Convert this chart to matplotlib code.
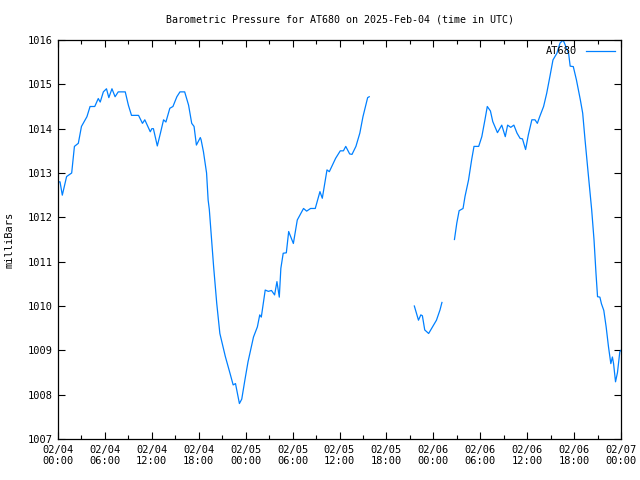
import numpy as np
import matplotlib
matplotlib.use("Agg")
import matplotlib.pyplot as plt
import matplotlib.dates as mdates
from datetime import datetime, timedelta

# hours after 2025-02-04 00:00 UTC, pressure in millibars (three segments, gaps between)
seg1_h = [0.0, 0.26, 0.55, 1.1, 1.75, 2.1, 2.6, 3.0, 3.7, 4.1, 4.7, 5.15, 5.4, 5.8, 6.2, 6.5,
          6.9, 7.3, 7.7, 8.6, 9.0, 9.4, 10.3, 10.8, 11.1, 11.8, 12.0, 12.2, 12.7, 13.1, 13.5,
          13.8, 14.3, 14.7, 15.2, 15.6, 16.2, 16.7, 17.1, 17.4, 17.7, 18.2, 18.3, 18.6, 19.0,
          19.2, 19.35, 19.9, 20.3, 20.7, 21.4, 22.0, 22.4, 22.7, 23.2, 23.5, 23.9, 24.3, 25.0,
          25.5, 25.8, 26.0, 26.5, 26.9, 27.3, 27.7, 28.0, 28.3, 28.5, 28.8, 29.2, 29.5, 30.1,
          30.6, 31.4, 31.8, 32.3, 32.9, 33.5, 33.8, 34.4, 34.7, 35.5, 36.1, 36.5, 36.8, 37.3,
          37.6, 38.1, 38.6, 39.0, 39.6, 39.8]
seg1_p = [1012.8, 1012.8, 1012.5, 1012.92, 1013.0, 1013.6, 1013.67, 1014.05, 1014.27, 1014.5,
          1014.5, 1014.68, 1014.6, 1014.83, 1014.9, 1014.7, 1014.9, 1014.72, 1014.83, 1014.83,
          1014.53, 1014.3, 1014.3, 1014.12, 1014.2, 1013.93, 1014.0, 1014.0, 1013.61, 1013.9,
          1014.2, 1014.15, 1014.46, 1014.5, 1014.72, 1014.83, 1014.83, 1014.53, 1014.12,
          1014.05, 1013.63, 1013.8, 1013.75, 1013.48, 1013.0, 1012.39, 1012.18, 1010.89,
          1010.06, 1009.38, 1008.86, 1008.48, 1008.22, 1008.25, 1007.8, 1007.9, 1008.33,
          1008.74, 1009.3, 1009.53, 1009.8, 1009.75, 1010.36, 1010.33, 1010.35, 1010.25,
          1010.55, 1010.2, 1010.85, 1011.19, 1011.2, 1011.68, 1011.41, 1011.94, 1012.2,
          1012.14, 1012.2, 1012.2, 1012.58, 1012.43, 1013.07, 1013.03, 1013.33, 1013.5,
          1013.5, 1013.6, 1013.43, 1013.42, 1013.6, 1013.9, 1014.27, 1014.7, 1014.72]

seg2_h = [45.57, 46.1, 46.4, 46.6, 46.9, 47.4, 47.8, 48.4, 48.85, 49.1]
seg2_p = [1010.0, 1009.68, 1009.8, 1009.78, 1009.46, 1009.38, 1009.5, 1009.68, 1009.91, 1010.08]

seg3_h = [50.7, 51.0, 51.3, 51.8, 52.05, 52.5, 52.9, 53.2, 53.8, 54.2, 54.6, 54.9, 55.3, 55.6,
          56.2, 56.75, 57.2, 57.5, 57.9, 58.3, 58.7, 59.1, 59.4, 59.8, 60.15, 60.6, 61.0, 61.3,
          61.6, 62.1, 62.5, 62.9, 63.3, 63.8, 64.2, 64.6, 65.3, 65.5, 65.9, 66.3, 66.8, 67.1,
          67.4, 67.8, 68.25, 68.55, 68.8, 69.0, 69.3, 69.5, 69.8, 70.1, 70.4, 70.7, 70.9,
          71.05, 71.3, 71.55, 71.85, 72.0]
seg3_p = [1011.5, 1011.87, 1012.15, 1012.2, 1012.47, 1012.84, 1013.3, 1013.6, 1013.6, 1013.82,
          1014.2, 1014.5, 1014.4, 1014.16, 1013.91, 1014.08, 1013.82, 1014.08, 1014.03, 1014.08,
          1013.9, 1013.78, 1013.77, 1013.53, 1013.86, 1014.2, 1014.2, 1014.12, 1014.27, 1014.5,
          1014.8, 1015.17, 1015.55, 1015.7, 1015.93, 1016.0, 1015.7, 1015.41, 1015.4, 1015.1,
          1014.65, 1014.35, 1013.75, 1013.0, 1012.17, 1011.49, 1010.74, 1010.21, 1010.2,
          1010.05, 1009.9, 1009.53, 1009.08, 1008.7, 1008.85, 1008.7, 1008.29, 1008.5, 1008.97,
          1009.0]

start = datetime(2025, 2, 4)
font = "DejaVu Sans Mono"
color = "#0080ff"

def to_dt(hours):
    return [start + timedelta(hours=h) for h in hours]

fig = plt.figure(figsize=(6.4, 4.8), dpi=100)
ax = fig.add_axes([58 / 640, 1 - 439 / 480, 563 / 640, 399 / 480])

for i, (hh, pp) in enumerate([(seg1_h, seg1_p), (seg2_h, seg2_p), (seg3_h, seg3_p)]):
    ax.plot(to_dt(hh), pp, color=color, lw=0.9, label="AT680" if i == 0 else None)

ax.set_xlim(start, start + timedelta(hours=72))
ax.set_ylim(1007, 1016)
ax.set_yticks(np.arange(1007, 1017, 1))
ax.yaxis.set_major_formatter(plt.FuncFormatter(lambda v, p: "%d" % v))
ax.xaxis.set_major_locator(mdates.HourLocator(byhour=[0, 6, 12, 18]))
ax.xaxis.set_minor_locator(mdates.HourLocator(byhour=[3, 9, 15, 21]))
ax.xaxis.set_major_formatter(mdates.DateFormatter("%m/%d\n%H:%M"))
ax.tick_params(direction="in", top=True, right=True, length=5, width=0.8,
               labelsize=7.5, pad=4, colors="black")
ax.tick_params(which="minor", direction="in", top=True, length=3, width=0.8)
for lab in ax.get_xticklabels() + ax.get_yticklabels():
    lab.set_fontfamily(font)
for s in ax.spines.values():
    s.set_linewidth(0.9)

ax.set_ylabel("milliBars", fontfamily=font, fontsize=7.5, labelpad=9)
fig.text(339.5 / 640, 1 - 20 / 480, "Barometric Pressure for AT680 on 2025-Feb-04 (time in UTC)",
         ha="center", va="center", fontfamily=font, fontsize=7.2)

leg = ax.legend(loc="upper right", frameon=False, markerfirst=False,
                prop={"family": font, "size": 7.5}, handlelength=2.8,
                borderaxespad=0.2, handletextpad=0.8)

fig.savefig("out.png", dpi=100)
